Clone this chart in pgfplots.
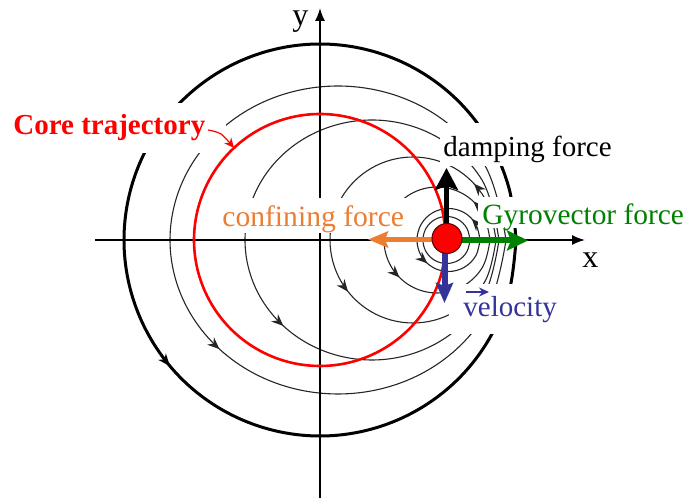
\documentclass[border=0pt]{standalone}
\usepackage{fontspec}
\setmainfont{Liberation Serif}
\usepackage{pgfplots}
\pgfplotsset{compat=1.18}
\usetikzlibrary{arrows.meta,decorations.markings}
\definecolor{corange}{RGB}{237,125,49}
\definecolor{cgreen}{RGB}{0,128,0}
\definecolor{cblue}{RGB}{51,51,153}
\definecolor{cred}{RGB}{255,0,0}
\tikzset{
  thincurve/.style={black!85, line width=0.55pt, smooth, tension=0.63, mark=none},
  onearrow/.style={postaction={decorate},decoration={markings,
     mark=at position #1 with {\arrow{Stealth[length=6pt,width=5pt]}}}},
  twoarrows/.style 2 args={postaction={decorate},decoration={markings,
     mark=at position #1 with {\arrow{Stealth[length=6pt,width=5pt]}},
     mark=at position #2 with {\arrow{Stealth[length=6pt,width=5pt]}}}},
}
\begin{document}
\begin{tikzpicture}
\begin{axis}[x=0.5pt,y=0.5pt,xmin=-320,xmax=367,ymin=-263,ymax=240,
  hide axis,clip=false,enlargelimits=false]
\path (axis cs:-320,-263) rectangle (axis cs:367,240);

% outer thick circle
\addplot[black, line width=1.5pt, smooth, tension=0.61, mark=none, onearrow=0.611] coordinates {
(196,0) (189.3,50.7) (169.7,98) (138.6,138.6) (98,169.7) (50.7,189.3) (0,196)
(-50.7,189.3) (-98,169.7) (-138.6,138.6) (-169.7,98) (-189.3,50.7) (-196,0)
(-189.3,-50.7) (-169.7,-98) (-138.6,-138.6) (-98,-169.7) (-50.7,-189.3) (0,-196)
(50.7,-189.3) (98,-169.7) (138.6,-138.6) (169.7,-98) (189.3,-50.7) (196,0)};

% T1
\addplot[thincurve, onearrow=0.622] coordinates {
(186,0) (163.5,77) (102,133.4) (18,154) (-66,133.4) (-127.5,77) (-150,0)
(-127.5,-77) (-66,-133.4) (18,-154) (102,-133.4) (163.5,-77) (186,0)};
% A
\addplot[thincurve, onearrow=0.625] coordinates {
(179,0) (162,60) (115.5,103.9) (52,120) (-11.5,103.9) (-58,60) (-75,0)
(-58,-60) (-11.5,-103.9) (52,-120) (115.5,-103.9) (162,-60) (179,0)};
% d
\addplot[thincurve, twoarrows={0.118}{0.607}] coordinates {
(176,0) (164.9,41.5) (134.5,71.9) (93,83) (51.5,71.9) (21.1,41.5) (10,0)
(21.1,-41.5) (51.5,-71.9) (93,-83) (134.5,-71.9) (164.9,-41.5) (176,0)};
% e
\addplot[thincurve, twoarrows={0.129}{0.625}] coordinates {
(170,0) (162.9,26.5) (143.5,45.9) (117,53) (90.5,45.9) (71.1,26.5) (64,0)
(71.1,-26.5) (90.5,-45.9) (117,-53) (143.5,-45.9) (162.9,-26.5) (170,0)};
% f
\addplot[thincurve, twoarrows={0.117}{0.633}] coordinates {
(160,0) (155.8,15.75) (144.3,27.3) (128.5,31.5) (112.7,27.3) (101.2,15.75) (97,0)
(101.2,-15.75) (112.7,-27.3) (128.5,-31.5) (144.3,-27.3) (155.8,-15.75) (160,0)};
% g
\addplot[thincurve] coordinates {
(150,0) (146.9,11.75) (138.3,20.4) (126.5,23.5) (114.8,20.4) (106.1,11.75) (103,0)
(106.1,-11.75) (114.8,-20.4) (126.5,-23.5) (138.3,-20.4) (146.9,-11.75) (150,0)};

% axes
\addplot[black, line width=0.8pt, -{Latex[length=6.5pt,width=5pt]}] coordinates {(-225,0) (265,0)};
\addplot[black, line width=0.8pt, -{Latex[length=6.5pt,width=5pt]}] coordinates {(0,-258) (0,232)};

% red trajectory
\addplot[cred, line width=1.3pt, smooth, tension=0.61, mark=none] coordinates {
(126,0) (121.7,32.6) (109.1,63) (89.1,89.1) (63,109.1) (32.6,121.7) (0,126)
(-32.6,121.7) (-63,109.1) (-89.1,89.1) (-109.1,63) (-121.7,32.6) (-126,0)
(-121.7,-32.6) (-109.1,-63) (-89.1,-89.1) (-63,-109.1) (-32.6,-121.7) (0,-126)
(32.6,-121.7) (63,-109.1) (89.1,-89.1) (109.1,-63) (121.7,-32.6) (126,0)};

% white backgrounds of the labels
\fill[white] (axis cs:-315,87) rectangle (axis cs:-94,137);
\fill[white] (axis cs:-98,7) rectangle (axis cs:86,42);
\fill[white] (axis cs:120,74) rectangle (axis cs:325,117);
\fill[white] (axis cs:158,12) rectangle (axis cs:366,43);
\fill[white] (axis cs:129,-94) rectangle (axis cs:246,-44);

% labels
\node[anchor=base west, inner sep=0pt, text=cred, font=\fontsize{14.5}{17}\selectfont\bfseries] at (axis cs:-307,105) {Core trajectory};
\node[anchor=base west, inner sep=0pt, text=corange, font=\fontsize{14.8}{17}\selectfont] at (axis cs:-98,13) {confining force};
\node[anchor=base west, inner sep=0pt, text=black, font=\fontsize{14.5}{17}\selectfont] at (axis cs:123,83) {damping force};
\node[anchor=base west, inner sep=0pt, text=cgreen, font=\fontsize{14.7}{17}\selectfont] at (axis cs:162,15) {Gyrovector force};
\node[anchor=base west, inner sep=0pt, text=cblue, font=\fontsize{14.5}{17}\selectfont] at (axis cs:143,-77) {velocity};
\addplot[cblue, line width=0.7pt, -{Stealth[length=5pt,width=4.5pt]}] coordinates {(146,-52) (169,-52)};
\node[anchor=base west, inner sep=0pt, font=\fontsize{16}{18}\selectfont] at (axis cs:262,-28) {x};
\node[anchor=base west, inner sep=0pt, font=\fontsize{16}{18}\selectfont] at (axis cs:-28,214) {y};

% annotation arrow
\addplot[cred, line width=0.6pt, smooth, mark=none, -{Stealth[length=5pt,width=4.5pt]}] coordinates {(-112,110) (-99,106) (-86,92)};

% force arrows
\addplot[corange, line width=2.6pt, -{Stealth[length=10pt,width=8pt,inset=1.5pt]}] coordinates {(127,0.5) (48,0.5)};
\addplot[cgreen, line width=3pt, -{Stealth[length=10.5pt,width=10pt,inset=2pt]}] coordinates {(127,-0.5) (208,-0.5)};
\addplot[black, line width=2.2pt, -{Stealth[length=11pt,width=11.5pt,inset=2pt]}] coordinates {(126.5,0) (126.5,72)};
\addplot[cblue, line width=3pt, -{Stealth[length=10pt,width=8.5pt,inset=1.5pt]}] coordinates {(124.5,0) (124.5,-63)};

% core
\addplot[only marks, mark=*, mark size=7.5pt, mark options={fill=cred, draw=red!35!black, line width=0.5pt}] coordinates {(127,1.5)};
\end{axis}
\end{tikzpicture}
\end{document}
